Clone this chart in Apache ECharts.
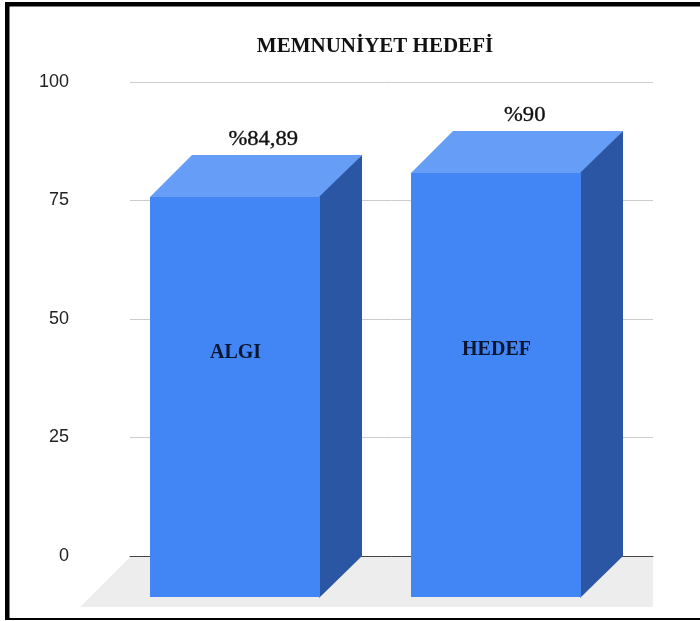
<!DOCTYPE html>
<html>
<head>
<meta charset="utf-8">
<style>html,body{margin:0;padding:0;background:#fff}#c{width:700px;height:621px}</style>
<script src="https://cdn.jsdelivr.net/npm/echarts@6/dist/echarts.min.js"></script>
</head>
<body>
<div id="c"></div>
<script>
const categories = ['ALGI', 'HEDEF'];
const values = [84.89, 90];
const valueLabels = ['%84,89', '%90'];
const chartTitle = 'MEMNUNİYET HEDEFİ';
const yTicks = [0, 25, 50, 75, 100];

const depthX = 42, depthY = 41, topInset = 1.5, barFrac = 0.65;
const nameNudge = [1.5, -1.5];
const colors = {front:'#4285F4', top:'#669DF6', side:'#2A56A3', floor:'#EDEDED'};
const serif = '"Liberation Serif","Times New Roman",serif';

function renderBar(params, api) {
  const i = api.value(0);
  const v = api.value(1);
  const top = api.coord([i, v]);
  const base = api.coord([i, 0]);
  const w = Math.round(api.size([1, 0])[0] * barFrac);
  const bl = Math.round(top[0] - 69);
  const by = Math.round(top[1] + topInset);
  const fl = bl - depthX, fb = base[1] + depthY, ft = by + depthY + 1;
  const fr = fl + w, br = bl + w;
  return {type:'group', children:[
    {type:'polygon', shape:{points:[[fl,ft],[bl,by],[br,by],[fr+1,ft]]}, style:{fill:colors.top}},
    {type:'polygon', shape:{points:[[fr-1,ft],[br,by],[br,base[1]],[fr-1,fb+1]]}, style:{fill:colors.side}},
    {type:'rect', shape:{x:fl,y:ft,width:w,height:fb-ft}, style:{fill:colors.front}},
    {type:'text', x:top[0]+2.5, y:by-15.5, scaleX:1.13, style:{text:valueLabels[i], x:0, y:0, align:'center', verticalAlign:'middle', font:'20px '+serif, fill:'#111', stroke:'#111', lineWidth:0.35}},
    {type:'text', x:fl+w/2+0.5, y:351.5+nameNudge[i], style:{text:categories[i], x:0, y:0, align:'center', verticalAlign:'middle', font:'bold 20px '+serif, fill:'#0b1730'}}
  ]};
}
function renderFloor(params, api) {
  const c = params.coordSys;
  const y0 = c.y + c.height;
  return {type:'polygon', shape:{points:[[c.x,y0+1],[c.x+c.width,y0+1],[c.x+c.width,y0+51],[c.x-50,y0+51]]}, style:{fill:colors.floor}};
}

const chart = echarts.init(document.getElementById('c'), null, {renderer:'canvas'});
chart.setOption({
  animation:false,
  backgroundColor:'#fff',
  title:{text:chartTitle, left:370, top:31, textAlign:'center', textStyle:{fontFamily:serif, fontSize:21, fontWeight:'bold', color:'#111'}},
  grid:{left:130, right:47, top:82, bottom:65, containLabel:false},
  xAxis:{type:'category', data:categories, axisLabel:{show:false}, axisTick:{show:false}, axisLine:{show:true, lineStyle:{color:'#444', width:1}}, splitLine:{show:false}},
  yAxis:{type:'value', min:0, max:100, interval:25, axisLine:{show:false}, axisTick:{show:false},
    axisLabel:{margin:61, fontFamily:'"Liberation Sans",Arial,sans-serif', fontSize:18, color:'#222', customValues:yTicks},
    splitLine:{lineStyle:{color:'#CCCCCC', width:1}}},
  series:[
    {type:'custom', z:1, renderItem:renderFloor, data:[[0]], encode:{x:0}, silent:true},
    {type:'custom', z:5, renderItem:renderBar, data:values.map((v,i)=>[i,v]), encode:{x:0,y:1}}
  ],
  graphic:[
    {type:'rect', z:100, shape:{x:5,y:2,width:695,height:4.5}, style:{fill:'#000'}},
    {type:'rect', z:100, shape:{x:5,y:2,width:4.5,height:618}, style:{fill:'#000'}},
    {type:'rect', z:100, shape:{x:5,y:618,width:695,height:2}, style:{fill:'#000'}}
  ]
});
</script>
</body>
</html>
